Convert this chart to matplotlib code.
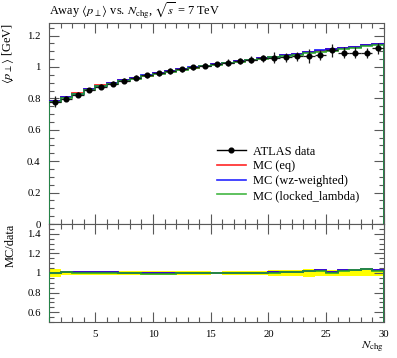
import numpy as np
import matplotlib
matplotlib.use("Agg")
import matplotlib.pyplot as plt
from matplotlib.ticker import MultipleLocator, FuncFormatter
from matplotlib.lines import Line2D

plt.rcParams['font.family'] = ['Liberation Serif', 'DejaVu Serif']
plt.rcParams['mathtext.fontset'] = 'stix'

# ---- data ----
bin_edges = np.arange(1, 31, 1)  # 1..30
data_vals = [0.778, 0.798, 0.823, 0.852, 0.875, 0.893, 0.913, 0.930, 0.947, 0.961,
             0.974, 0.986, 0.998, 1.009, 1.018, 1.028, 1.037, 1.046, 1.054, 1.060,
             1.062, 1.068, 1.071, 1.076, 1.105, 1.092, 1.092, 1.088, 1.118]
data_rel_err = [0.045, 0.020, 0.018, 0.017, 0.017, 0.017, 0.017, 0.017, 0.017, 0.017,
                0.017, 0.017, 0.017, 0.017, 0.015, 0.020, 0.020, 0.020, 0.022, 0.032,
                0.028, 0.028, 0.040, 0.030, 0.035, 0.030, 0.030, 0.030, 0.030]
mc_eq = [0.781, 0.808, 0.833, 0.858, 0.882, 0.899, 0.914, 0.929, 0.945, 0.959,
         0.972, 0.985, 0.996, 1.007, 1.017, 1.028, 1.038, 1.047, 1.056, 1.066,
         1.075, 1.084, 1.096, 1.104, 1.112, 1.120, 1.128, 1.137, 1.147]
mc_wz = [0.781, 0.806, 0.831, 0.857, 0.880, 0.898, 0.914, 0.930, 0.946, 0.960,
         0.973, 0.985, 0.997, 1.008, 1.017, 1.028, 1.038, 1.047, 1.056, 1.066,
         1.075, 1.084, 1.097, 1.105, 1.112, 1.120, 1.127, 1.137, 1.148]
mc_locked = [0.778, 0.803, 0.827, 0.853, 0.876, 0.894, 0.910, 0.926, 0.942, 0.956,
             0.969, 0.981, 0.993, 1.004, 1.014, 1.024, 1.034, 1.043, 1.052, 1.062,
             1.071, 1.079, 1.089, 1.097, 1.104, 1.115, 1.123, 1.133, 1.143]
x_ticks = [5, 10, 15, 20, 25, 30]
title_text = r'Away $\langle p_\perp \rangle$ vs. $N_\mathrm{chg}$, $\sqrt{s}$ = 7 TeV'
legend_labels = ['ATLAS data', 'MC (eq)', 'MC (wz-weighted)', 'MC (locked_lambda)']

edges = np.asarray(bin_edges, dtype=float)
centers = 0.5 * (edges[:-1] + edges[1:])
d = np.asarray(data_vals)
rel = np.asarray(data_rel_err)
derr = d * rel

W, H = 397, 358
fig = plt.figure(figsize=(W / 100, H / 100), dpi=100)


def fit_size(s, target_px, base=10.0):
    t = fig.text(0, 0, s, fontsize=base)
    w = t.get_window_extent(renderer=fig.canvas.get_renderer()).width
    t.remove()
    return base * target_px / w


fs_title = fit_size(title_text, 171)
fs_leg = fit_size(legend_labels[3], 107)
fs_tick = fit_size('1.2', 13.5)

L, R = 49 / W, 384 / W
ax = fig.add_axes([L, 1 - 224 / H, R - L, (224 - 23) / H])
axr = fig.add_axes([L, 1 - 322 / H, R - L, (322 - 224) / H], sharex=ax)

colors = ['red', 'blue', '#22aa22']
mc_sets = [mc_eq, mc_wz, mc_locked]

for vals, c in zip(mc_sets, colors):
    ax.stairs(vals, edges, color=c, lw=1.3, alpha=0.85, zorder=3)
ax.errorbar(centers, d, yerr=derr, xerr=0.5, fmt='o', ms=3.4, color='black',
            ecolor='0.1', elinewidth=0.9, capsize=0, zorder=4)

# ratio
axr.stairs(1 + rel, edges, baseline=1 - rel, fill=True, color='#ffff00', lw=0, zorder=1)
for vals, c in zip(mc_sets, colors):
    axr.stairs(np.asarray(vals) / d, edges, color=c, lw=1.3, alpha=0.85, zorder=3)

ax.set_xlim(1, 30)
ax.set_ylim(0, 1.28)
axr.set_ylim(0.5, 1.5)

fmt = FuncFormatter(lambda v, p: ('%g' % round(v, 3)))
for a in (ax, axr):
    a.xaxis.set_major_locator(MultipleLocator(5))
    a.xaxis.set_minor_locator(MultipleLocator(1))
    a.tick_params(which='both', direction='in', top=True, right=True, colors='0.35',
                  labelcolor='black', labelsize=fs_tick, width=0.8)
    a.tick_params(which='major', length=7.5)
    a.tick_params(which='minor', length=3.5)
    a.tick_params(axis='y', pad=6)
    a.tick_params(axis='x', pad=6)
    for s in a.spines.values():
        s.set_color('0.35')
        s.set_linewidth(0.8)
    a.yaxis.set_major_formatter(fmt)

ax.yaxis.set_major_locator(MultipleLocator(0.2))
ax.yaxis.set_minor_locator(MultipleLocator(0.05))
axr.yaxis.set_minor_locator(MultipleLocator(0.05))
axr.set_yticks([0.6, 0.8, 1.0, 1.2, 1.4])
axr.set_xticks(x_ticks)
axr.xaxis.set_major_formatter(FuncFormatter(lambda v, p: '%d' % v))
plt.setp(ax.get_xticklabels(), visible=False)

ax.set_title(title_text, loc='left', fontsize=fs_title, pad=6)
ax.set_ylabel(r'$\langle p_\perp \rangle$ [GeV]', fontsize=fs_leg, loc='top')
axr.set_ylabel('MC/data', fontsize=fs_leg, loc='top')
ax.yaxis.set_label_coords(-0.098, 1.0)
axr.yaxis.set_label_coords(-0.098, 1.0)
axr.set_xlabel(r'$N_\mathrm{chg}$', fontsize=fs_leg, loc='right', labelpad=0)

handles = [Line2D([], [], color='black', marker='o', ms=3.4, lw=1)]
handles += [Line2D([], [], color=c, lw=1.2, alpha=0.85) for c in colors]
ax.legend(handles, legend_labels, loc='upper left', bbox_to_anchor=(0.50, 0.39),
          frameon=False, fontsize=fs_leg, handlelength=2.4, handletextpad=0.5,
          labelspacing=0.22, borderpad=0, borderaxespad=0)

fig.savefig('out.png', dpi=100)
